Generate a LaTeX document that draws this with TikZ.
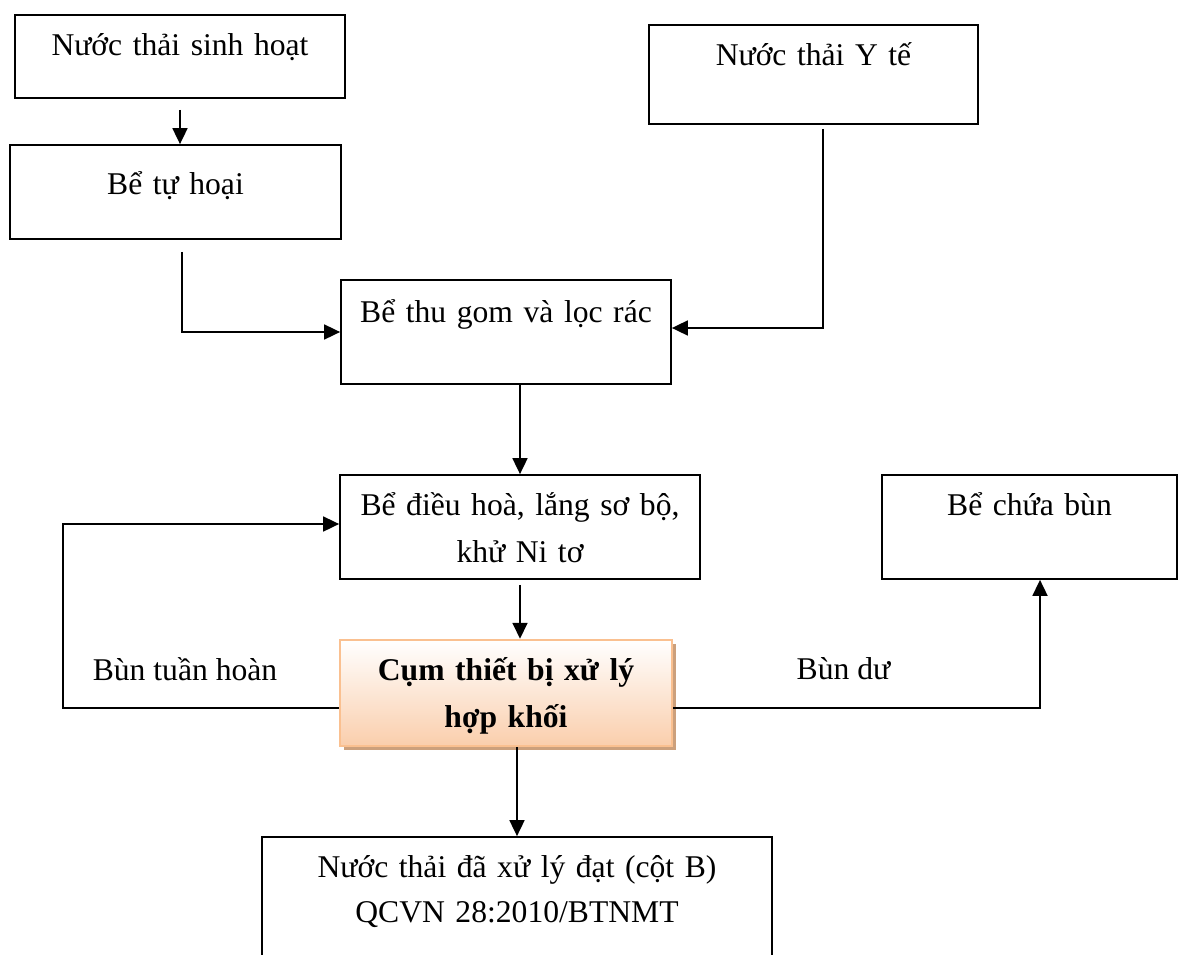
\documentclass[tikz,border=0pt]{standalone}
\usepackage{fontspec}
\setmainfont{Liberation Serif}
\usetikzlibrary{arrows.meta,shadows}
\definecolor{peach}{RGB}{250,206,172}
\definecolor{peachline}{RGB}{250,192,144}
\definecolor{shadowtan}{RGB}{204,160,124}
\begin{document}
\begin{tikzpicture}[
  >={Triangle[length=0.32cm,width=0.3cm]},
  line width=1pt,
  every node/.style={font=\fontsize{18}{27}\selectfont},
  box/.style={draw, align=center, inner sep=0pt, text height=0.8cm},
  hub/.style={box, draw=peachline, line width=1.4pt, top color=white, bottom color=peach,
    general shadow={fill=shadowtan, shadow xshift=0.07cm, shadow yshift=-0.07cm},
    font=\fontsize{18}{27}\selectfont\bfseries}
]
\clip (0,0) rectangle (23.62,-19.08);
\node[box, text width=6.6cm, text depth=0.86cm] (sh) at (3.6,-1.13) {Nước thải sinh hoạt};
\node[box, text width=6.62cm, text height=0.98cm, text depth=0.9cm] (th) at (3.51,-3.84) {Bể tự hoại};
\node[box, text width=6.58cm, text depth=1.18cm] (yt) at (16.27,-1.49) {Nước thải Y tế};
\node[box, text width=6.6cm, text height=0.84cm, text depth=1.24cm] (tg) at (10.12,-6.64) {Bể thu gom và lọc rác};
\node[box, text width=7.2cm, text depth=1.28cm] (dh) at (10.40,-10.54) {Bể điều hoà, lắng sơ bộ,\\khử Ni tơ};
\node[box, text width=5.9cm, text depth=1.28cm] (cb) at (20.59,-10.54) {Bể chứa bùn};
\node[hub, text width=6.64cm, text depth=1.32cm] (hk) at (10.12,-13.86) {Cụm thiết bị xử lý\\hợp khối};
\node[box, text width=10.2cm, text depth=1.96cm, font=\fontsize{18}{25.6}\selectfont] (ra) at (10.34,-18.12) {Nước thải đã xử lý đạt (cột B)\\QCVN 28:2010/BTNMT};
\node[anchor=base] (tuan) at (3.7,-13.6) {Bùn tuần hoàn};
\node[anchor=base] (du) at (16.87,-13.58) {Bùn dư};
\draw[->] ([yshift=-0.22cm]sh.south) -- (sh.south |- th.north);
\draw[->] ([xshift=0.13cm,yshift=-0.24cm]th.south) |- (tg.west);
\draw[->] ([xshift=0.19cm,yshift=-0.08cm]yt.south) |- ([yshift=0.08cm]tg.east);
\draw[->] (tg.south -| dh.north) -- (dh.north);
\draw[->] ([yshift=-0.1cm]dh.south) -- (dh.south |- hk.north);
\draw[->] ([yshift=-0.3cm]hk.west) -- ++(-5.52,0) |- ([yshift=0.06cm]dh.west);
\draw[->] ([yshift=-0.3cm]hk.east) -| ([xshift=0.21cm]cb.south);
\draw[->] (hk.south -| ra.north) -- (ra.north);
\end{tikzpicture}
\end{document}
